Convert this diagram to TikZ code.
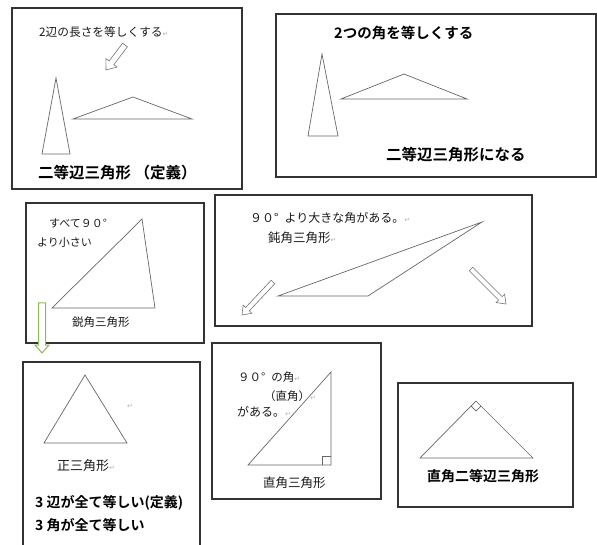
\documentclass[tikz,border=0pt]{standalone}
\usepackage{fontspec}
\newfontfamily\jp{Noto Sans CJK JP}[BoldFont={Noto Sans CJK JP Bold}]
\newfontfamily\sym{DejaVu Sans}
\usetikzlibrary{calc}
\definecolor{arrgreen}{HTML}{8DBB55}
\newcommand{\fs}[1]{\fontsize{#1}{#1}\selectfont}
\newcommand{\ret}{{\sym\fontsize{7}{7}\selectfont\color{black!30}↵}}
\newcommand{\harrow}[6]{%
  \path ($(#2)!#5!(#1)$) coordinate (hN);
  \draw[#6] ($(#1)!#3!90:(#2)$) -- ($(hN)!#3!90:(#2)$) -- ($(hN)!#4!90:(#2)$) -- (#2)
     -- ($(hN)!#4!-90:(#2)$) -- ($(hN)!#3!-90:(#2)$) -- ($(#1)!#3!-90:(#2)$) -- cycle;}
\tikzset{
  frame/.style={draw=black!80, line width=1.1pt},
  tri/.style={draw=black!60, line width=0.7pt},
  lbl/.style={inner sep=0pt, anchor=west, text=black!90, font=\jp},
  blbl/.style={inner sep=0pt, anchor=west, text=black, font=\jp\bfseries},
  grayarrow/.style={draw=black!55, line width=0.6pt, fill=white},
  greenarrow/.style={draw=arrgreen, line width=1pt, fill=white}
}
\begin{document}
\begin{tikzpicture}[x=1pt,y=-1pt]
\useasboundingbox (0,0) rectangle (597,545);

% ---------- box 1 ----------
\draw[frame] (12,8) rectangle (242,189);
\node[lbl, font=\jp\fs{11.7}] (t1) at (39,32) {2辺の長さを等しくする\ret};
\coordinate (a1s) at (125,45); \coordinate (a1t) at (106,70);
\harrow{a1s}{a1t}{3pt}{7pt}{9pt}{grayarrow}
\draw[tri] (56,78) -- (42,154) -- (70,154) -- cycle;
\draw[tri] (73,119) -- (133,97) -- (192,119) -- cycle;
\node[blbl, font=\jp\bfseries\fs{15.5}] (t1b) at (38,173) {二等辺三角形 （定義）};

% ---------- box 2 ----------
\draw[frame] (276,14) rectangle (596,177);
\node[blbl, font=\jp\bfseries\fs{14.5}] (t2) at (334,33) {2つの角を等しくする};
\draw[tri] (322,54) -- (308,136) -- (338,136) -- cycle;
\draw[tri] (341,99) -- (404,74) -- (467,99) -- cycle;
\node[blbl, font=\jp\bfseries\fs{15.5}] (t2b) at (386,155) {二等辺三角形になる};

% ---------- box 3 ----------
\draw[frame] (26,203) rectangle (204,343);
\node[lbl, font=\jp\fs{11}] (t3a) at (49,223) {すべて９０°};
\node[lbl, font=\jp\fs{11}] (t3b) at (37,242) {より小さい};
\draw[tri] (52,308) -- (142,219) -- (155,308) -- cycle;
\node[lbl, font=\jp\fs{11.5}] (t3c) at (72,322) {鋭角三角形};

% ---------- box 4 ----------
\draw[frame] (215,195) rectangle (532,326);
\node[lbl, font=\jp\fs{12}] (t4a) at (250,218) {９０°\hspace{6pt}より大きな角がある。\ret};
\node[lbl, font=\jp\fs{12.5}] (t4b) at (268,238) {鈍角三角形\ret};
\draw[tri] (278,296) -- (482,222) -- (368,296) -- cycle;
\coordinate (a2s) at (273,282); \coordinate (a2t) at (242,315);
\harrow{a2s}{a2t}{2.5pt}{6pt}{8pt}{grayarrow}
\coordinate (a3s) at (471,269); \coordinate (a3t) at (506,304);
\harrow{a3s}{a3t}{2.5pt}{6pt}{8pt}{grayarrow}

% ---------- green arrow ----------
\coordinate (g1s) at (42,303); \coordinate (g1t) at (42,353);
\harrow{g1s}{g1t}{3.5pt}{7pt}{8pt}{greenarrow}

% ---------- box 5 ----------
\draw[frame] (23,550) -- (23,362) -- (200,362) -- (200,550);
\draw[tri] (85,375) -- (44,443) -- (127,443) -- cycle;
\node[inner sep=0pt] (r5) at (130,406) {\ret};
\node[lbl, font=\jp\fs{13}] (t5a) at (57,466) {正三角形\ret};
\node[blbl, font=\jp\bfseries\fs{14}] (t5b) at (35,503) {3 辺が全て等しい(定義)};
\node[blbl, font=\jp\bfseries\fs{14}] (t5c) at (35,525) {3 角が全て等しい};

% ---------- box 6 ----------
\draw[frame] (212,343) rectangle (381,499);
\draw[tri] (248,465) -- (331,372) -- (331,465) -- cycle;
\draw[tri] (322,465) -- (322,456) -- (331,456);
\node[lbl, font=\jp\fs{11.5}] (t6a) at (238,377) {９０°\hspace{6pt}の角\ret};
\node[lbl, font=\jp\fs{11.5}] (t6b) at (264,396) {（直角）\ret};
\node[lbl, font=\jp\fs{12}] (t6c) at (237,412) {がある。\ret};
\node[lbl, font=\jp\fs{12.5}] (t6d) at (263,483) {直角三角形};

% ---------- box 7 ----------
\draw[frame] (398,383) rectangle (573,507);
\draw[tri] (420,458) -- (476,401) -- (533,458) -- cycle;
\draw[tri] (471.1,406) -- (476,411) -- (481,406);
\node[blbl, font=\jp\bfseries\fs{14}] (t7) at (427,476) {直角二等辺三角形};
\end{tikzpicture}
\end{document}
